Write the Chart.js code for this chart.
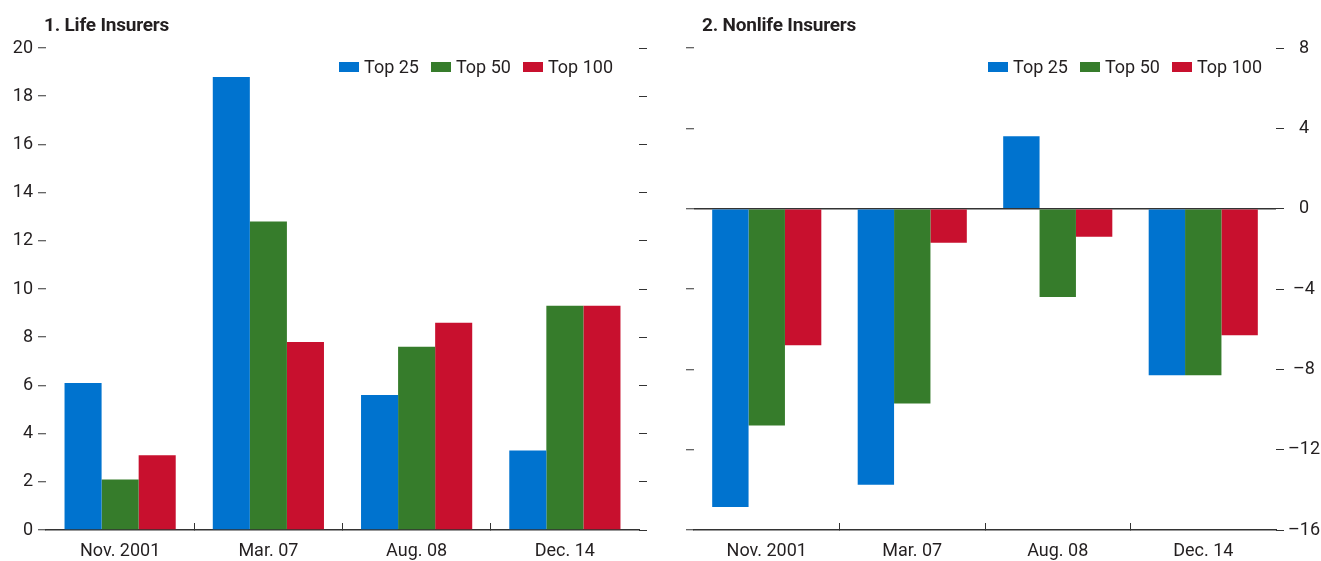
<!DOCTYPE html>
<html>
<head>
<meta charset="utf-8">
<script src="https://cdn.jsdelivr.net/npm/chart.js@4.4.0/dist/chart.umd.min.js"></script>
<style>
  html, body { margin: 0; padding: 0; background: #fff; }
  body {
    width: 1321px; height: 561px; position: relative; overflow: hidden;
    font-family: Roboto, 'DejaVu Sans Condensed', sans-serif;
    color: #231f20;
  }
  .panel { position: absolute; top: 0; height: 561px; }
  #leftPanel { left: 0; width: 660px; }
  #rightPanel { left: 660px; width: 661px; }
  .title { position: absolute; top: 13px; font-weight: bold; font-size: 19px; letter-spacing: -0.2px; }
  .legend {
    position: absolute; top: 56px; display: flex; align-items: center;
    font-size: 18px; white-space: nowrap;
  }
  .legend .item { display: flex; align-items: center; margin-left: 12px; }
  .legend .box { display: inline-block; width: 20px; height: 10px; margin-right: 5px; }
</style>
</head>
<body>
<div class="panel" id="leftPanel">
  <canvas id="lifeChart"></canvas>
  <div class="title" style="left:44px;">1. Life Insurers</div>
  <div class="legend" id="lifeLegend" style="right:47px;"></div>
</div>
<div class="panel" id="rightPanel">
  <canvas id="nonlifeChart"></canvas>
  <div class="title" style="left:42px;">2. Nonlife Insurers</div>
  <div class="legend" id="nonlifeLegend" style="right:59px;"></div>
</div>
<script>
const categories = ['Nov. 2001', 'Mar. 07', 'Aug. 08', 'Dec. 14'];
const seriesNames = ['Top 25', 'Top 50', 'Top 100'];
const seriesColors = ['#0073cf', '#367c2b', '#c8102e'];

// panel 1: life insurers
const lifeTop25 = [6.1, 18.8, 5.6, 3.3];
const lifeTop50 = [2.1, 12.8, 7.6, 9.3];
const lifeTop100 = [3.1, 7.8, 8.6, 9.3];

// panel 2: nonlife insurers
const nonlifeTop25 = [-14.85, -13.75, 3.6, -8.3];
const nonlifeTop50 = [-10.8, -9.7, -4.4, -8.3];
const nonlifeTop100 = [-6.8, -1.7, -1.4, -6.3];

const lifeRange = { min: 0, max: 20, step: 2 };
const nonlifeRange = { min: -16, max: 8, step: 4 };

const fontFamily = "Roboto, 'DejaVu Sans Condensed', sans-serif";
const textColor = '#231f20';
const lineColor = '#333333';
const clear = 'rgba(0,0,0,0)';

const tickFont = { family: fontFamily, size: 18 };

const buildLegend = (id) => {
  const el = document.getElementById(id);
  el.innerHTML = seriesNames.map((name, i) =>
    `<span class="item"><span class="box" style="background:${seriesColors[i]}"></span>${name}</span>`
  ).join('');
};

const dashLabel = (v) => (v < 0 ? '\u2013' + Math.abs(v) : '' + v);

const xScale = () => ({
  type: 'category',
  offset: true,
  grid: {
    offset: true,
    drawOnChartArea: false,
    drawTicks: true,
    tickLength: -7,
    tickWidth: 1,
    tickColor: (ctx) => (ctx.type === 'tick' && ctx.index > 0 ? lineColor : clear),
  },
  border: { display: true, color: lineColor, width: 1.5 },
  ticks: { padding: 18, font: tickFont, color: textColor, maxRotation: 0, autoSkip: false },
  afterFit: (s) => { s.height = 31; },
});

const makeChart = (canvasId, values, range, sides) => {
  const datasets = seriesNames.map((name, i) => ({
    label: name,
    data: values[i],
    backgroundColor: seriesColors[i],
    borderWidth: 0,
    categoryPercentage: 0.75,
    barPercentage: 1.0,
    yAxisID: 'y',
  }));

  return new Chart(document.getElementById(canvasId), {
    type: 'bar',
    data: { labels: categories, datasets: datasets },
    options: {
      responsive: true,
      maintainAspectRatio: false,
      animation: false,
      layout: { padding: { top: 48, bottom: 0, left: sides.padLeft, right: sides.padRight } },
      plugins: { legend: { display: false }, tooltip: { enabled: false } },
      scales: {
        x: xScale(),
        y: {
          position: 'left',
          min: range.min,
          max: range.max,
          ticks: {
            stepSize: range.step,
            display: sides.leftLabels,
            padding: 5,
            font: tickFont,
            color: textColor,
            callback: dashLabel,
          },
          grid: {
            drawOnChartArea: sides.zeroLine,
            color: (ctx) => (ctx.tick && ctx.tick.value === 0 ? lineColor : clear),
            lineWidth: 1.5,
            tickColor: lineColor,
            tickLength: 8,
            tickWidth: 1,
          },
          border: { display: false },
          afterFit: (s) => { s.width = sides.leftWidth; },
        },
        y2: {
          position: 'right',
          min: range.min,
          max: range.max,
          ticks: {
            stepSize: range.step,
            display: sides.rightLabels,
            crossAlign: 'center',
            padding: 4,
            font: tickFont,
            color: textColor,
            callback: dashLabel,
          },
          grid: {
            drawOnChartArea: false,
            tickColor: lineColor,
            tickLength: 8,
            tickWidth: 1,
          },
          border: { display: false },
          afterFit: (s) => { s.width = sides.rightWidth; },
        },
      },
    },
  });
};

buildLegend('lifeLegend');
buildLegend('nonlifeLegend');

makeChart('lifeChart', [lifeTop25, lifeTop50, lifeTop100], lifeRange, {
  padLeft: 0, padRight: 12, leftWidth: 46, rightWidth: 9,
  leftLabels: true, rightLabels: false, zeroLine: false,
});

makeChart('nonlifeChart', [nonlifeTop25, nonlifeTop50, nonlifeTop100], nonlifeRange, {
  padLeft: 26, padRight: 0, leftWidth: 8, rightWidth: 45,
  leftLabels: false, rightLabels: true, zeroLine: true,
});
</script>
</body>
</html>
